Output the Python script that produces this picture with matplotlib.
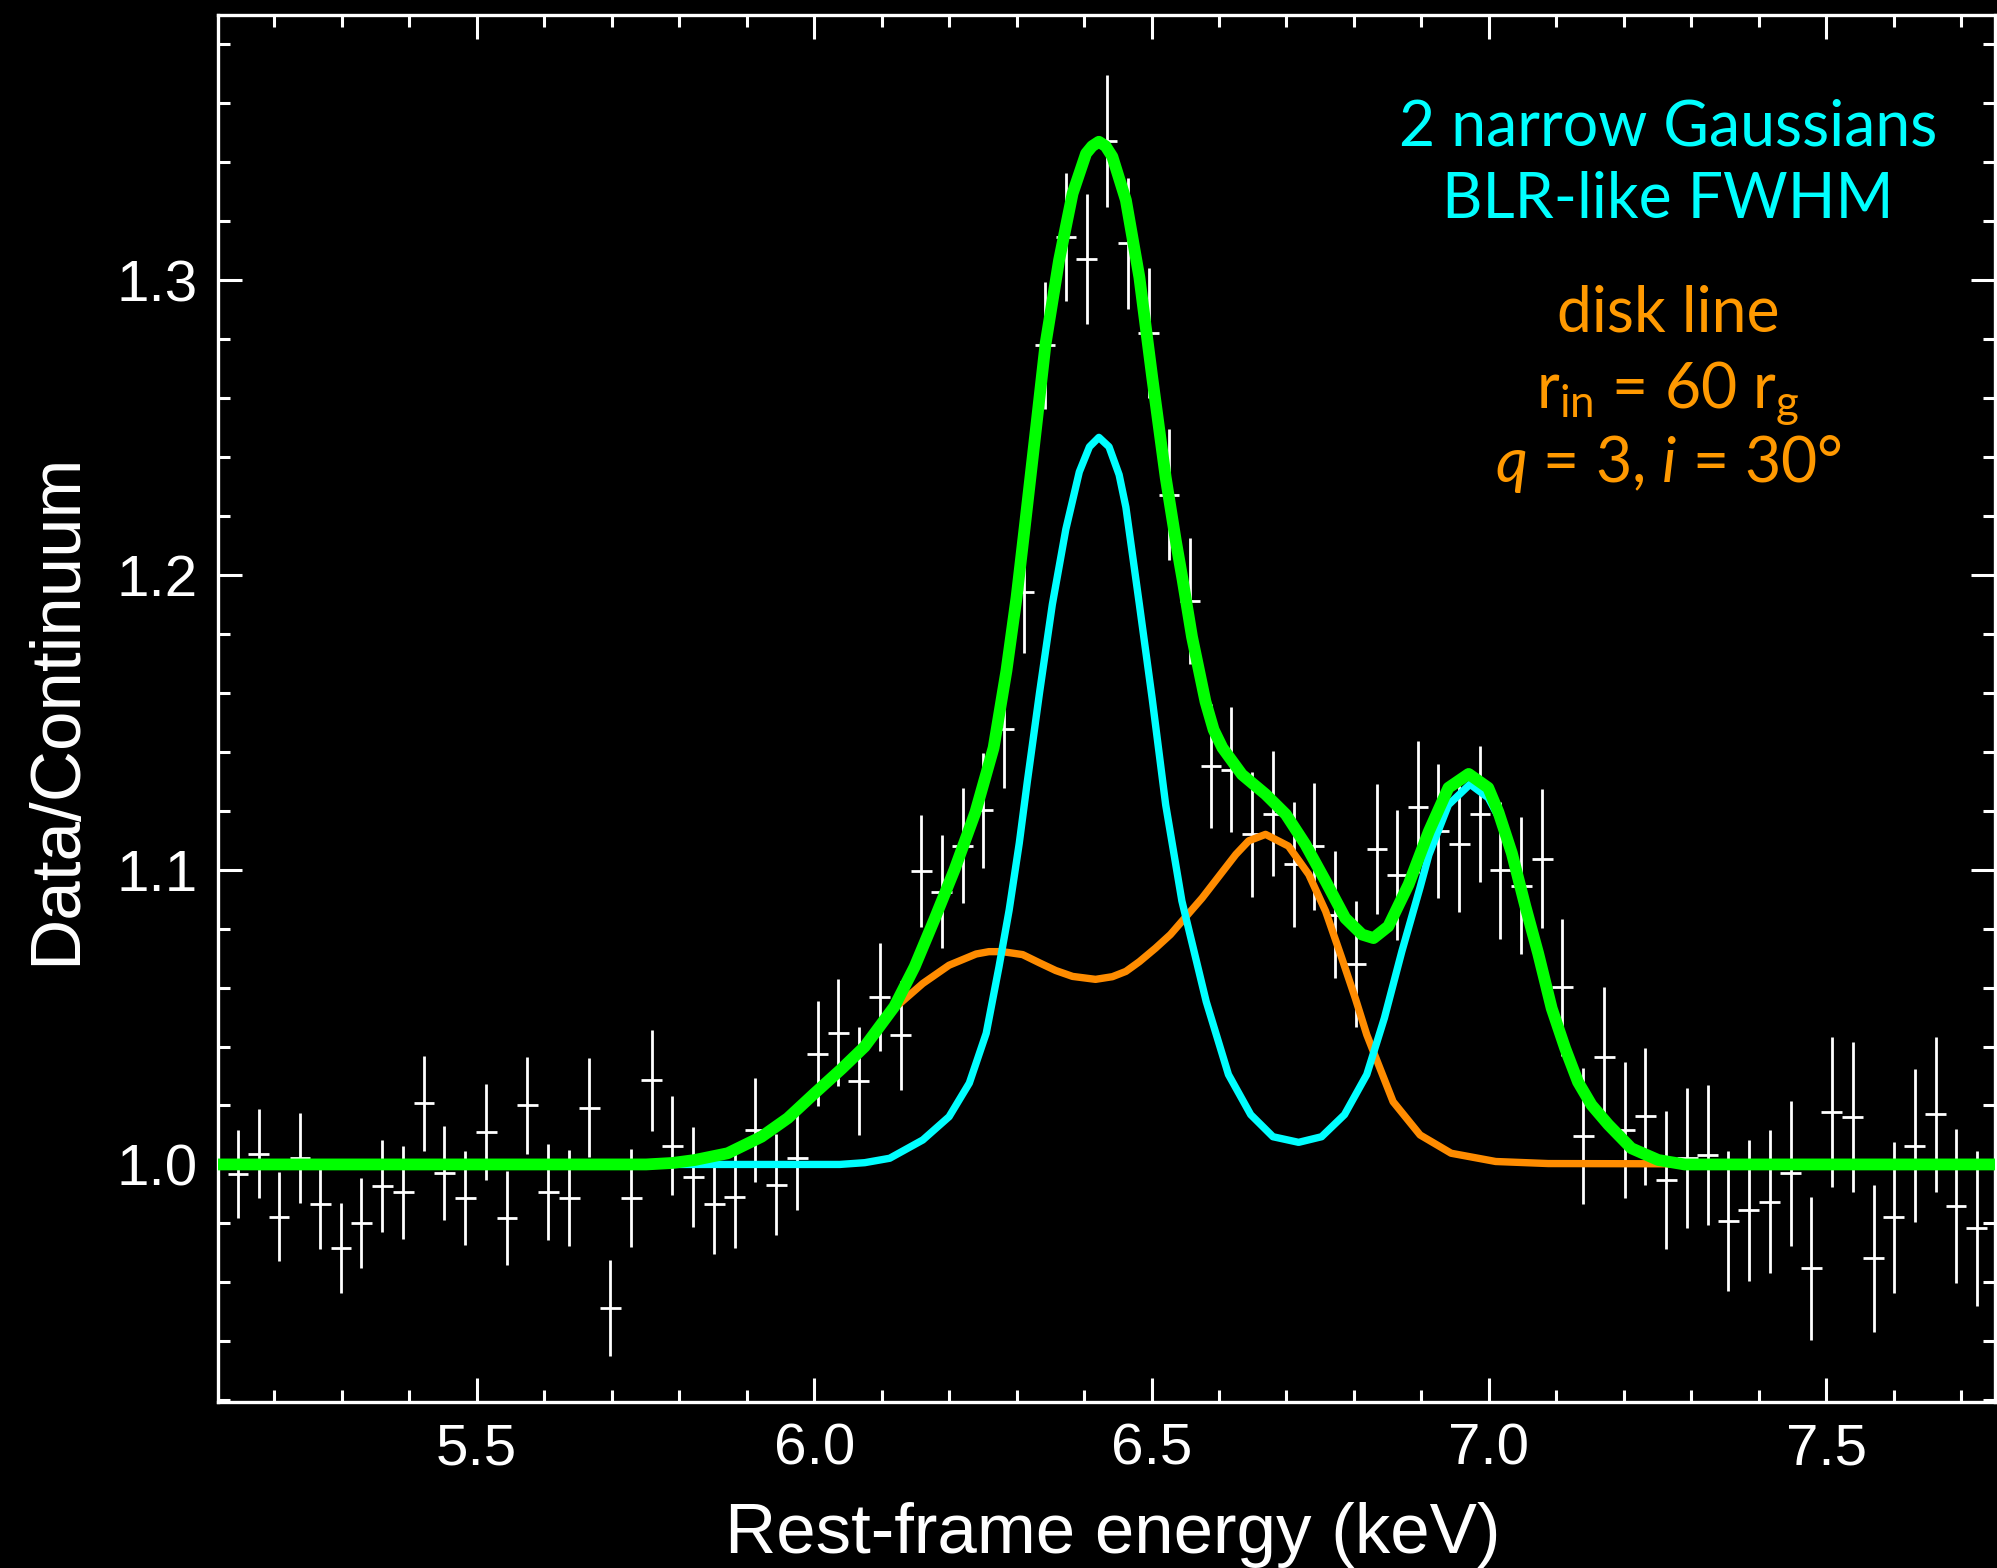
import matplotlib
matplotlib.use("Agg")
import matplotlib.pyplot as plt
from matplotlib.ticker import MultipleLocator

plt.rcParams['font.family'] = ['Liberation Sans', 'DejaVu Sans']
plt.rcParams['mathtext.fontset'] = 'custom'
plt.rcParams['mathtext.rm'] = 'Lato'
plt.rcParams['mathtext.it'] = 'Lato:italic'

# ---------------- data ----------------
energy = [5.146, 5.177, 5.207, 5.238, 5.268, 5.299, 5.329, 5.360, 5.391, 5.422,
          5.452, 5.483, 5.514, 5.545, 5.575, 5.606, 5.637, 5.667, 5.698, 5.729,
          5.759, 5.790, 5.821, 5.852, 5.882, 5.913, 5.944, 5.975, 6.005, 6.036,
          6.066, 6.097, 6.128, 6.159, 6.189, 6.220, 6.250, 6.281, 6.311, 6.342,
          6.373, 6.404, 6.434, 6.465, 6.496, 6.526, 6.557, 6.588, 6.618, 6.649,
          6.680, 6.711, 6.741, 6.772, 6.803, 6.834, 6.864, 6.895, 6.925, 6.956,
          6.987, 7.017, 7.048, 7.079, 7.109, 7.140, 7.171, 7.201, 7.232, 7.263,
          7.294, 7.324, 7.355, 7.385, 7.416, 7.447, 7.478, 7.508, 7.539, 7.570,
          7.600, 7.631, 7.662, 7.692, 7.723]

ratio = [0.9968, 1.0037, 0.9823, 1.0023, 0.9866, 0.9717, 0.9801, 0.9927, 0.9905, 1.0208,
         0.9970, 0.9886, 1.0111, 0.9819, 1.0200, 0.9905, 0.9886, 1.0193, 0.9513, 0.9886,
         1.0285, 1.0064, 0.9957, 0.9866, 0.9888, 1.0117, 0.9931, 1.0021, 1.0375, 1.0447,
         1.0284, 1.0568, 1.0438, 1.0995, 1.0925, 1.1082, 1.1201, 1.1476, 1.1943, 1.2779,
         1.3147, 1.3072, 1.3472, 1.3125, 1.2822, 1.2273, 1.1912, 1.1352, 1.1340, 1.1120,
         1.1190, 1.1018, 1.1080, 1.0848, 1.0680, 1.1071, 1.0981, 1.1213, 1.1131, 1.1086,
         1.1190, 1.0998, 1.0946, 1.1038, 1.0601, 1.0097, 1.0366, 1.0117, 1.0163, 0.9947,
         1.0021, 1.0032, 0.9808, 0.9844, 0.9874, 0.9970, 0.9647, 1.0179, 1.0162, 0.9681,
         0.9820, 1.0064, 1.0170, 0.9859, 0.9783]

ratio_err = [0.0150, 0.0151, 0.0151, 0.0153, 0.0153, 0.0153, 0.0153, 0.0156, 0.0157, 0.0161,
             0.0160, 0.0160, 0.0163, 0.0159, 0.0165, 0.0163, 0.0164, 0.0168, 0.0163, 0.0167,
             0.0171, 0.0169, 0.0170, 0.0169, 0.0172, 0.0175, 0.0172, 0.0176, 0.0178, 0.0182,
             0.0183, 0.0184, 0.0185, 0.0191, 0.0192, 0.0194, 0.0196, 0.0198, 0.0207, 0.0215,
             0.0216, 0.0219, 0.0224, 0.0222, 0.0221, 0.0221, 0.0215, 0.0210, 0.0212, 0.0212,
             0.0213, 0.0213, 0.0215, 0.0215, 0.0215, 0.0220, 0.0221, 0.0225, 0.0228, 0.0228,
             0.0230, 0.0232, 0.0232, 0.0235, 0.0233, 0.0230, 0.0235, 0.0232, 0.0233, 0.0233,
             0.0238, 0.0239, 0.0238, 0.0240, 0.0242, 0.0246, 0.0244, 0.0254, 0.0254, 0.0249,
             0.0255, 0.0260, 0.0263, 0.0262, 0.0263]

bin_half_width = 0.0153

# two narrow Gaussians (cyan)
gauss_e = [5.10, 5.816, 6.038, 6.075, 6.112, 6.161, 6.200, 6.230, 6.255, 6.274,
           6.289, 6.304, 6.316, 6.334, 6.353, 6.373, 6.393, 6.408, 6.422, 6.437,
           6.452, 6.462, 6.482, 6.501, 6.521, 6.545, 6.581, 6.614, 6.647, 6.680,
           6.718, 6.752, 6.786, 6.819, 6.845, 6.871, 6.898, 6.911, 6.940, 6.972,
           6.999, 7.014, 7.034, 7.054, 7.073, 7.093, 7.113, 7.132, 7.152, 7.177,
           7.211, 7.251, 7.290, 7.76]
gauss_v = [1.000, 1.000, 1.000, 1.0006, 1.0021, 1.0083, 1.0162, 1.0276, 1.0445, 1.0671,
           1.0863, 1.1090, 1.130, 1.160, 1.190, 1.2155, 1.235, 1.2435, 1.2467, 1.2435,
           1.234, 1.223, 1.190, 1.158, 1.122, 1.0894, 1.0553, 1.0305, 1.0169, 1.0094,
           1.0075, 1.0094, 1.0169, 1.0305, 1.0496, 1.0723, 1.094, 1.105, 1.122, 1.129,
           1.1244, 1.118, 1.104, 1.086, 1.070, 1.053, 1.039, 1.027, 1.0195, 1.013,
           1.0055, 1.0015, 1.000, 1.000]

# disk line (orange)
disk_e = [5.10, 5.742, 5.790, 5.823, 5.872, 5.922, 5.961, 6.001, 6.041, 6.075,
          6.092, 6.122, 6.161, 6.200, 6.240, 6.259, 6.279, 6.309, 6.334, 6.358,
          6.383, 6.417, 6.442, 6.462, 6.482, 6.506, 6.528, 6.575, 6.625, 6.644,
          6.669, 6.703, 6.733, 6.758, 6.782, 6.802, 6.819, 6.858, 6.898, 6.944,
          7.010, 7.088, 7.76]
disk_v = [1.000, 1.000, 1.0005, 1.0015, 1.0038, 1.0094, 1.0157, 1.0242, 1.0325, 1.0400,
          1.0455, 1.0536, 1.0614, 1.0676, 1.0714, 1.0722, 1.0722, 1.0712, 1.0684, 1.0658,
          1.0638, 1.0628, 1.0637, 1.0655, 1.0688, 1.0734, 1.078, 1.0904, 1.1052, 1.1098,
          1.112, 1.108, 1.0984, 1.0859, 1.0700, 1.0564, 1.0440, 1.0213, 1.010, 1.0038,
          1.001, 1.0003, 1.000]

# total model (green)
total_e = [5.10, 5.751, 5.790, 5.823, 5.872, 5.922, 5.961, 6.001, 6.041, 6.075,
           6.119, 6.149, 6.178, 6.208, 6.239, 6.266, 6.285, 6.300, 6.312, 6.329,
           6.343, 6.363, 6.383, 6.403, 6.412, 6.422, 6.432, 6.442, 6.462, 6.482,
           6.501, 6.521, 6.536, 6.546, 6.560, 6.580, 6.592, 6.605, 6.634, 6.669,
           6.699, 6.728, 6.758, 6.787, 6.812, 6.829, 6.851, 6.881, 6.911, 6.940,
           6.970, 6.999, 7.014, 7.034, 7.054, 7.073, 7.093, 7.113, 7.132, 7.152,
           7.177, 7.211, 7.251, 7.290, 7.76]
total_v = [1.000, 1.000, 1.0005, 1.0015, 1.0038, 1.0094, 1.0157, 1.0242, 1.0325, 1.0400,
           1.0536, 1.0671, 1.0830, 1.1000, 1.1195, 1.1414, 1.1675, 1.1924, 1.2160, 1.2501,
           1.2785, 1.3068, 1.3294, 1.343, 1.3455, 1.347, 1.3455, 1.3419, 1.3272, 1.301,
           1.2671, 1.2331, 1.2116, 1.1985, 1.1790, 1.1570, 1.1475, 1.1414, 1.1323, 1.1256,
           1.1188, 1.1086, 1.0961, 1.0836, 1.078, 1.0768, 1.0808, 1.095, 1.113, 1.1278,
           1.1325, 1.1278, 1.1196, 1.1056, 1.0876, 1.0716, 1.053, 1.0394, 1.028, 1.0202,
           1.0135, 1.0055, 1.0015, 1.000, 1.000]

x_label = "Rest-frame energy (keV)"
y_label = "Data/Continuum"
gauss_text = ["2 narrow Gaussians", "BLR-like FWHM"]
disk_text = ["disk line", r"r$_{\rm in}$ = 60 r$_{\rm g}$", r"$q$ = 3, $i$ = 30°"]

# ---------------- figure ----------------
W, H = 1997, 1568
fig = plt.figure(figsize=(W / 100, H / 100), dpi=100, facecolor='black')
left, right, top, bottom = 218.3, 1995.0, 15.0, 1401.7
ax = fig.add_axes([left / W, 1 - bottom / H, (right - left) / W, (bottom - top) / H])
ax.set_facecolor('black')

ax.errorbar(energy, ratio, xerr=bin_half_width, yerr=ratio_err, fmt='none',
            ecolor='white', elinewidth=2.0, capsize=0, zorder=2)
ax.plot(disk_e, disk_v, color='#ff8c00', lw=5.3, zorder=3,
        solid_joinstyle='round', solid_capstyle='round')
ax.plot(gauss_e, gauss_v, color='#00ffff', lw=5.3, zorder=4,
        solid_joinstyle='round', solid_capstyle='round')
ax.plot(total_e, total_v, color='#00ff00', lw=8.5, zorder=5,
        solid_joinstyle='round', solid_capstyle='round')

ax.set_xlim(5.117, 7.750)
ax.set_ylim(0.9195, 1.390)
ax.xaxis.set_major_locator(MultipleLocator(0.5))
ax.xaxis.set_minor_locator(MultipleLocator(0.1))
ax.yaxis.set_major_locator(MultipleLocator(0.1))
ax.yaxis.set_minor_locator(MultipleLocator(0.02))

for s in ax.spines.values():
    s.set_color('white')
    s.set_linewidth(2.4)

ax.tick_params(which='both', direction='in', top=True, right=True,
               color='white', labelcolor='white', width=2.2)
ax.tick_params(which='major', length=17, labelsize=42, pad=15)
ax.tick_params(which='minor', length=8.6)

ax.set_xlabel(x_label, fontsize=51, color='white')
ax.xaxis.set_label_coords(0.5036, -0.1091)
ax.xaxis.label.set_va('baseline')
ax.set_ylabel(y_label, fontsize=51, color='white')
ax.yaxis.set_label_coords(-0.0807, 0.5)
ax.yaxis.label.set_va('baseline')

tx = 1668 / W
for txt, yb in zip(gauss_text, [145, 218.3]):
    fig.text(tx, 1 - yb / H, txt, color='#00ffff', fontsize=45, family='Lato',
             ha='center', va='baseline')
for txt, yb in zip(disk_text, [331.7, 408.3, 481.7]):
    fig.text(tx, 1 - yb / H, txt, color='#ff9900', fontsize=45, family='Lato',
             ha='center', va='baseline')

fig.savefig('out.png', dpi=100, facecolor='black')
